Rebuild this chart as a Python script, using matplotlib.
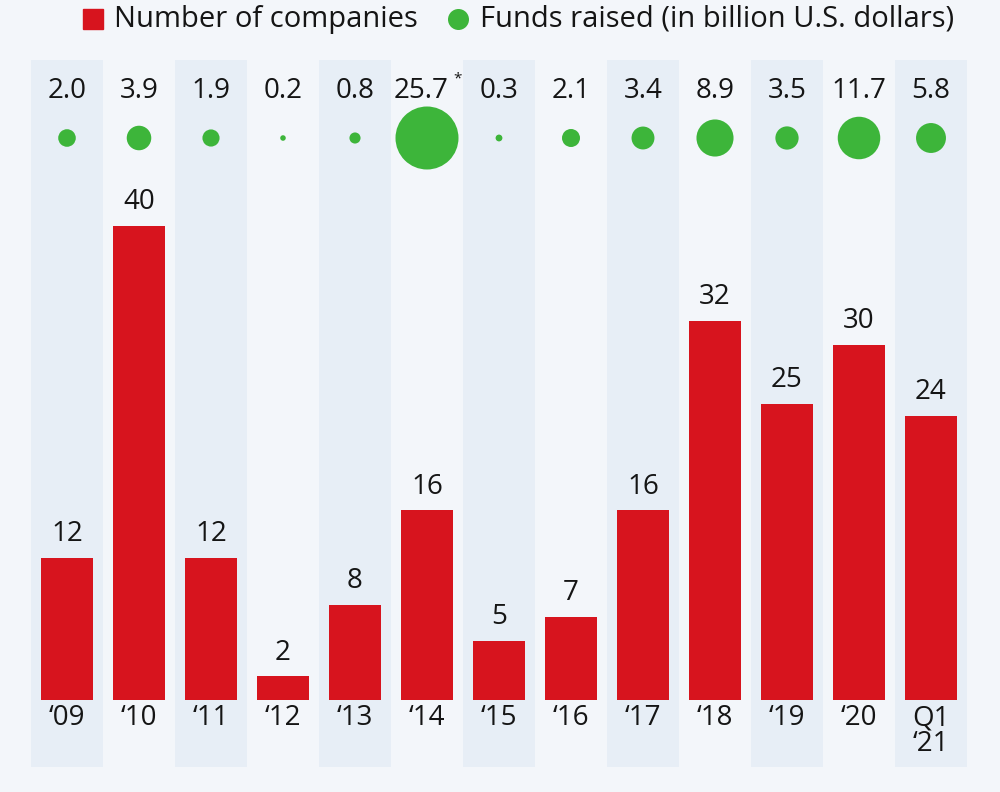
import matplotlib.pyplot as plt
import matplotlib.transforms as mtransforms
import numpy as np

years = ["\u201809", "\u201810", "\u201811", "\u201812", "\u201813",
         "\u201814", "\u201815", "\u201816", "\u201817", "\u201818", "\u201819",
         "\u201820", "Q1\n\u201821"]
companies = [12, 40, 12, 2, 8, 16, 5, 7, 16, 32, 25, 30, 24]
funds = [2.0, 3.9, 1.9, 0.2, 0.8, 25.7, 0.3, 2.1, 3.4, 8.9, 3.5, 11.7, 5.8]
fund_labels = ["2.0", "3.9", "1.9", "0.2", "0.8", "25.7", "0.3", "2.1",
               "3.4", "8.9", "3.5", "11.7", "5.8"]

plt.rcParams["font.family"] = ["Open Sans", "DejaVu Sans"]

BG = "#f3f6fa"
STRIPE = "#e7eef6"
RED = "#d7141e"
GREEN = "#3db53a"
TXT = "#151515"

fig = plt.figure(figsize=(10, 7.92), dpi=100, facecolor=BG)
ax = fig.add_axes([0, 0, 1, 1])
ax.set_facecolor(BG)

px_per_unit = 11.85
ax.set_xlim(-67 / 72, 933 / 72)
ax.set_ylim(-92 / px_per_unit, 700 / px_per_unit)
ax.axis("off")

x = np.arange(len(years))
trans = mtransforms.blended_transform_factory(ax.transData, ax.transAxes)

# alternating stripes
for i in x[::2]:
    ax.axvspan(i - 0.5, i + 0.5, ymin=1 - 767 / 792, ymax=1 - 60 / 792,
               color=STRIPE, lw=0, zorder=0)

ax.bar(x, companies, width=0.72, color=RED, zorder=2)
for xi, v in zip(x, companies):
    ax.annotate(str(v), (xi, v), xytext=(0, 7), textcoords="offset points",
                ha="center", va="bottom", fontsize=20, color=TXT)

for xi, lab in zip(x, years):
    ax.text(xi, 1 - 704 / 792, lab, transform=trans, ha="center", va="top",
            fontsize=20, color=TXT, linespacing=0.9)

# funds row, biggest one carries a footnote star
big = funds.index(max(funds))
for xi, lab in zip(x, fund_labels):
    shift = -0.08 if xi == big else 0
    ax.text(xi + shift, 1 - 91 / 792, lab, transform=trans, ha="center",
            va="center", fontsize=20, color=TXT)
ax.text(big + 0.42, 1 - 79 / 792, "*", transform=trans, ha="center",
        va="center", fontsize=11, color=TXT)

diam_px = 63 * np.sqrt(np.array(funds) / max(funds))
sizes = (diam_px * 0.72) ** 2
ax.scatter(x, np.full(len(x), 1 - 138 / 792), s=sizes, color=GREEN,
           transform=trans, zorder=3, linewidths=0)

# legend
fig.patches.append(plt.Rectangle((83 / 1000, 1 - 29 / 792), 20 / 1000, 20 / 792,
                                 transform=fig.transFigure, color=RED))
fig.text(114 / 1000, 1 - 19 / 792, "Number of companies", ha="left",
         va="center", fontsize=21, color=TXT)
ax.scatter([458 / 1000], [1 - 19 / 792], s=(21 * 0.72) ** 2, color=GREEN,
           transform=fig.transFigure, linewidths=0, clip_on=False)
fig.text(480 / 1000, 1 - 19 / 792, "Funds raised (in billion U.S. dollars)",
         ha="left", va="center", fontsize=21, color=TXT)

fig.savefig("out.png", dpi=100, facecolor=BG)
